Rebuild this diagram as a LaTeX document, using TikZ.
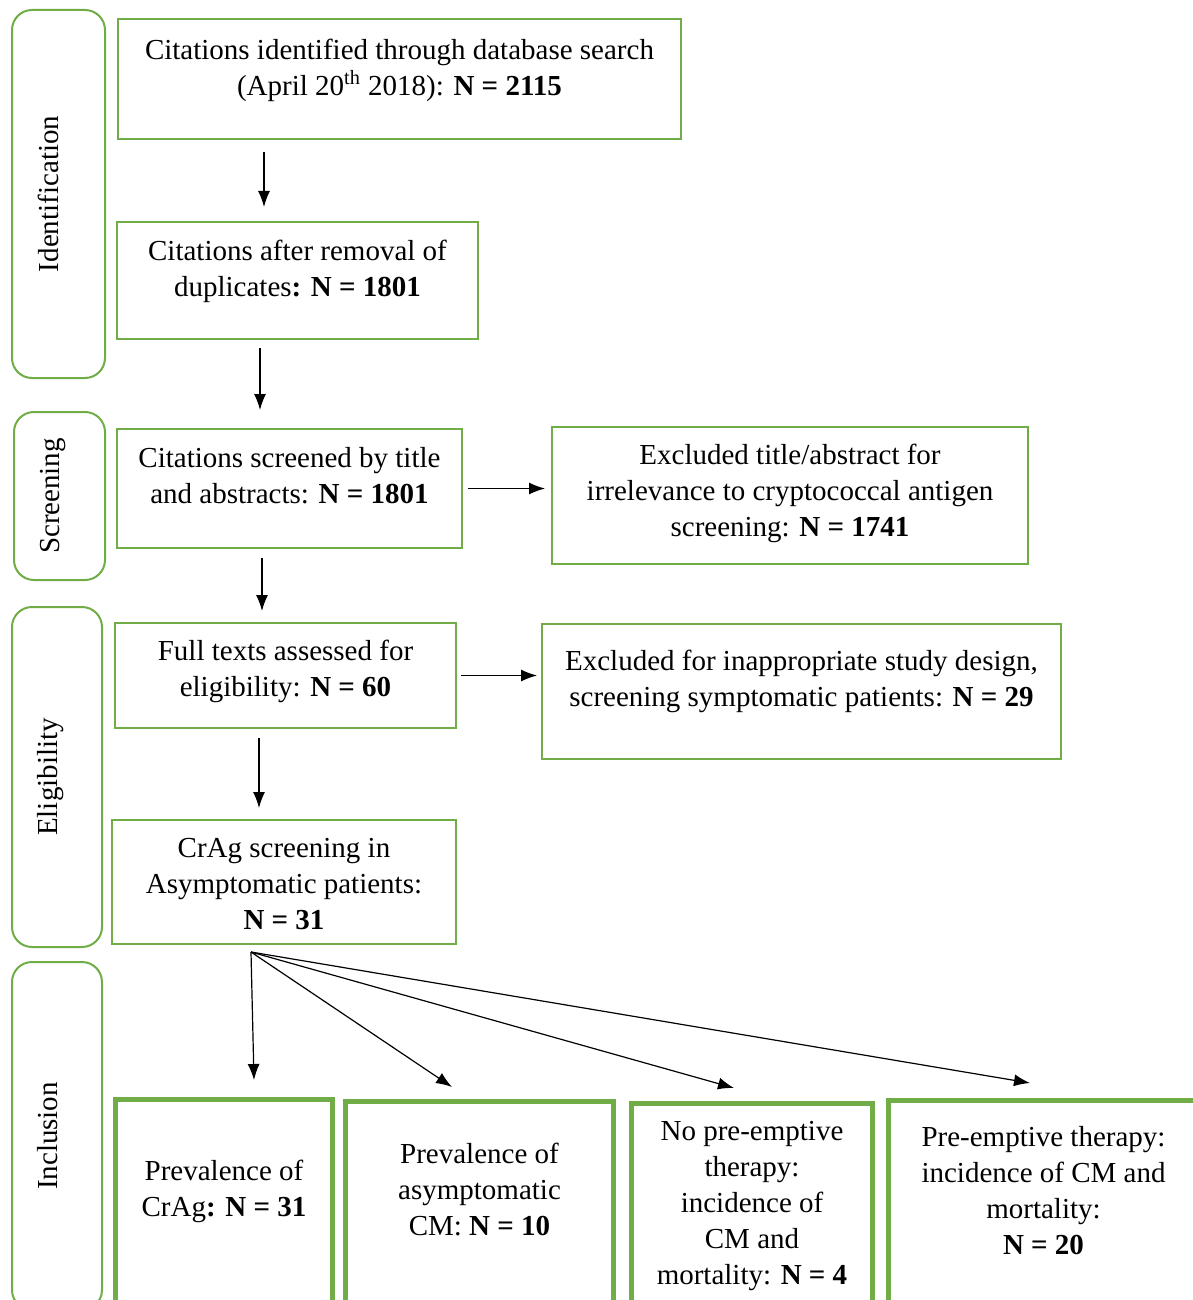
\documentclass[tikz,border=0pt]{standalone}
\usepackage{fontspec}
\setmainfont{Liberation Serif}
\usetikzlibrary{positioning,calc,arrows.meta}

\definecolor{prismagreen}{RGB}{112,173,71}

% box text: width, height, gap above first line, text
\newcommand{\boxtext}[4]{\parbox[c][#2][t]{#1}{\centering\vspace*{#3}\strut #4\par}}

\begin{document}
\begin{tikzpicture}[x=0.5pt,y=-0.5pt,
    every node/.style={font=\fontsize{14.5pt}{18pt}\selectfont},
    flowbox/.style={draw=prismagreen, line width=1pt, inner sep=0pt, anchor=north west},
    finalbox/.style={flowbox, line width=2.5pt},
    stagebox/.style={draw=prismagreen, line width=1pt, rounded corners=10pt, rotate=90,
      inner sep=0pt, text height=10pt, text depth=10pt},
    arr/.style={-{Latex[length=8pt,width=6pt]}, line width=0.6pt}]

  \useasboundingbox (0,0) rectangle (1193,1300);

  % stages on the left
  \node[stagebox, minimum width=184pt, minimum height=46.5pt] (ident) at (58.5,194) {Identification};
  \node[stagebox, minimum width=84pt,  minimum height=45.5pt] (screen) at (59.5,496) {Screening};
  \node[stagebox, minimum width=170pt, minimum height=45pt]   (elig) at (57,777) {Eligibility};
  \node[stagebox, minimum width=174pt, minimum height=45pt]   (incl) at (57,1136) {Inclusion};

  % main column
  \node[flowbox] (search) at (117,18)
    {\boxtext{281.5pt}{60pt}{7.5pt}{Citations identified through database search\\(April 20\textsuperscript{th} 2018): \textbf{N = 2115}}};
  \node[flowbox] (dedup) at (116,221)
    {\boxtext{180.5pt}{58.5pt}{6.5pt}{Citations after removal of\\duplicates\textbf{: N = 1801}}};
  \node[flowbox] (screened) at (116,428)
    {\boxtext{172.5pt}{59.5pt}{6.5pt}{Citations screened by title\\and abstracts: \textbf{N = 1801}}};
  \node[flowbox] (fulltext) at (114,622)
    {\boxtext{170.5pt}{52.5pt}{6pt}{Full texts assessed for\\eligibility: \textbf{N = 60}}};
  \node[flowbox] (asympt) at (111,819)
    {\boxtext{172pt}{62pt}{6pt}{CrAg screening in\\Asymptomatic patients:\\\textbf{N = 31}}};

  % exclusions
  \node[flowbox] (excltitle) at (551,426)
    {\boxtext{238pt}{68.5pt}{6pt}{Excluded title/abstract for\\irrelevance to cryptococcal antigen\\screening: \textbf{N = 1741}}};
  \node[flowbox] (excldesign) at (541,623)
    {\boxtext{259.5pt}{67.5pt}{10.5pt}{Excluded for inappropriate study design,\\screening symptomatic patients: \textbf{N = 29}}};

  % outcomes
  \node[finalbox] (prevcrag) at (113,1097)
    {\boxtext{108.5pt}{110pt}{28pt}{Prevalence of\\CrAg\textbf{: N = 31}}};
  \node[finalbox] (prevcm) at (343,1099)
    {\boxtext{134pt}{110pt}{18.5pt}{Prevalence of\\asymptomatic\\CM: \textbf{N = 10}}};
  \node[finalbox] (nopreempt) at (629,1101)
    {\boxtext{120.5pt}{110pt}{6pt}{No pre-emptive\\therapy:\\incidence of\\CM and\\mortality: \textbf{N = 4}}};
  \node[finalbox] (preempt) at (886,1098)
    {\boxtext{155pt}{110pt}{10.5pt}{Pre-emptive therapy:\\incidence of CM and\\mortality:\\\textbf{N = 20}}};

  % arrows
  \draw[arr, shorten <=6pt, shorten >=7pt] (search.south -| 264,0) -- (dedup.north -| 264,0);
  \draw[arr, shorten <=4pt, shorten >=9pt] (dedup.south -| 260,0) -- (screened.north -| 260,0);
  \draw[arr, shorten <=4.5pt, shorten >=5.5pt] (screened.south -| 262,0) -- (fulltext.north -| 262,0);
  \draw[arr, shorten <=4.5pt, shorten >=5.5pt] (fulltext.south -| 259,0) -- (asympt.north -| 259,0);
  \draw[arr, shorten <=2.5pt, shorten >=3pt] (screened.east) -- (screened.east -| excltitle.west);
  \draw[arr, shorten <=2pt, shorten >=2pt] (fulltext.east) -- (fulltext.east -| excldesign.west);

  \coordinate (fan) at ($(asympt.south west)+(140,7)$);
  \draw[arr] (fan) -- ($(prevcrag.north west)+(141,-17)$);
  \draw[arr] (fan) -- ($(prevcm.north west)+(109,-12)$);
  \draw[arr] (fan) -- ($(nopreempt.north west)+(105,-13)$);
  \draw[arr] (fan) -- ($(preempt.north west)+(144,-15)$);

\end{tikzpicture}
\end{document}
